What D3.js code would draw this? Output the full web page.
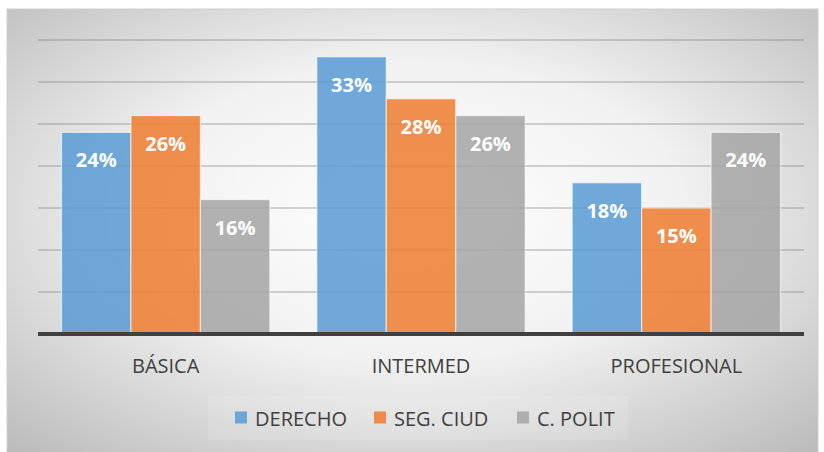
<!DOCTYPE html>
<html lang="es">
<head>
<meta charset="UTF-8">
<title>Nivel</title>
<script src="https://cdnjs.cloudflare.com/ajax/libs/d3/7.8.5/d3.min.js"></script>
<style>
  html, body { margin: 0; padding: 0; background: #fff; }
  svg { display: block; font-family: "Open Sans", sans-serif; }
</style>
</head>
<body>
<div id="chart"></div>
<script>
// chart data
const categories = ["BÁSICA", "INTERMED", "PROFESIONAL"];
const seriesNames = ["DERECHO", "SEG. CIUD", "C. POLIT"];
const derecho = [0.24, 0.33, 0.18];
const segCiud = [0.26, 0.28, 0.15];
const cPolit = [0.16, 0.26, 0.24];
const yTicks = [0.05, 0.10, 0.15, 0.20, 0.25, 0.30, 0.35];

const seriesValues = [derecho, segCiud, cPolit];
const colors = ["#5B9BD5", "#ED7D31", "#A5A5A5"];

const width = 824, height = 452;
const plot = { left: 38, right: 804, top: 40, bottom: 334 };

const svg = d3.select("#chart").append("svg")
    .attr("width", width)
    .attr("height", height);

// background panel with a soft radial gradient
const defs = svg.append("defs");
const grad = defs.append("radialGradient")
    .attr("id", "bg")
    .attr("cx", "50%").attr("cy", "45%").attr("r", "75%");
grad.append("stop").attr("offset", "0%").attr("stop-color", "#ffffff");
grad.append("stop").attr("offset", "45%").attr("stop-color", "#f1f1f1");
grad.append("stop").attr("offset", "100%").attr("stop-color", "#b8b8b8");

svg.append("rect")
    .attr("x", 7).attr("y", 9)
    .attr("width", 811).attr("height", 450)
    .attr("fill", "url(#bg)")
    .attr("stroke", "#cfcfcf")
    .attr("stroke-width", 1);

const x0 = d3.scaleBand()
    .domain(categories)
    .range([plot.left, plot.right])
    .paddingInner(0.184)
    .paddingOuter(0.092);

const x1 = d3.scaleBand()
    .domain(seriesNames)
    .range([0, x0.bandwidth()]);

const y = d3.scaleLinear()
    .domain([0, 0.35])
    .range([plot.bottom, plot.top]);

// gridlines
svg.append("g")
    .selectAll("line")
    .data(yTicks)
    .join("line")
    .attr("x1", plot.left).attr("x2", plot.right)
    .attr("y1", d => y(d)).attr("y2", d => y(d))
    .attr("stroke", "#808080")
    .attr("stroke-opacity", 0.45)
    .attr("stroke-width", 1.5);

// bars
const rows = categories.map((c, i) => ({
    cat: c,
    vals: seriesNames.map((s, j) => ({ s, j, v: seriesValues[j][i] }))
}));

const groups = svg.append("g")
    .selectAll("g")
    .data(rows)
    .join("g")
    .attr("transform", d => `translate(${x0(d.cat)},0)`);

groups.selectAll("rect")
    .data(d => d.vals)
    .join("rect")
    .attr("x", d => x1(d.s))
    .attr("y", d => y(d.v))
    .attr("width", x1.bandwidth())
    .attr("height", d => y(0) - y(d.v))
    .attr("fill", d => colors[d.j])
    .attr("fill-opacity", 0.86)
    .attr("stroke", "#ffffff")
    .attr("stroke-opacity", 0.6)
    .attr("stroke-width", 1.2);

groups.selectAll("text")
    .data(d => d.vals)
    .join("text")
    .attr("x", d => x1(d.s) + x1.bandwidth() / 2)
    .attr("y", d => y(d.v) + 35)
    .attr("text-anchor", "middle")
    .attr("fill", "#ffffff")
    .attr("font-size", 20)
    .attr("font-weight", "bold")
    .text(d => Math.round(d.v * 100) + "%");

// baseline
svg.append("line")
    .attr("x1", plot.left).attr("x2", plot.right)
    .attr("y1", y(0)).attr("y2", y(0))
    .attr("stroke", "#404040")
    .attr("stroke-width", 4);

// category axis labels
svg.append("g")
    .selectAll("text")
    .data(categories)
    .join("text")
    .attr("x", d => x0(d) + x0.bandwidth() / 2)
    .attr("y", 373)
    .attr("text-anchor", "middle")
    .attr("fill", "#404040")
    .attr("font-size", 20)
    .text(d => d);

// legend
svg.append("rect")
    .attr("x", 208).attr("y", 396)
    .attr("width", 420).attr("height", 44)
    .attr("fill", "#ffffff")
    .attr("fill-opacity", 0.12);

const legendX = [235, 374, 517];
const legend = svg.append("g")
    .selectAll("g")
    .data(seriesNames)
    .join("g")
    .attr("transform", (d, i) => `translate(${legendX[i]},0)`);

legend.append("rect")
    .attr("x", 0).attr("y", 411.5)
    .attr("width", 12).attr("height", 12)
    .attr("fill", (d, i) => colors[i])
    .attr("fill-opacity", 0.86);

legend.append("text")
    .attr("x", 20)
    .attr("y", 425.5)
    .attr("fill", "#404040")
    .attr("font-size", 20)
    .text(d => d);
</script>
</body>
</html>
